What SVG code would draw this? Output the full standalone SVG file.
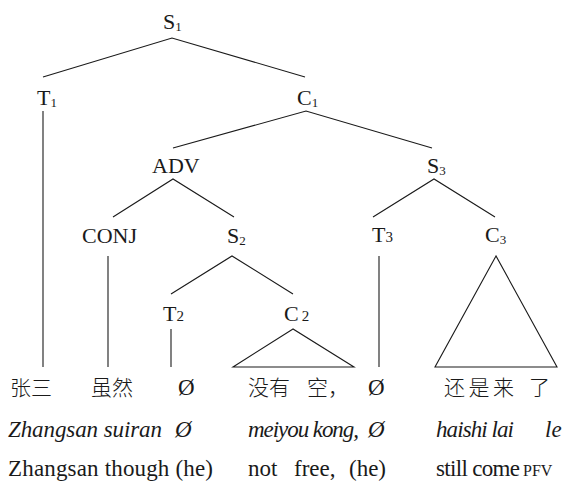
<svg xmlns="http://www.w3.org/2000/svg" width="562" height="486" viewBox="0 0 562 486">
  <style>
    .lbl { font-family: "Liberation Serif", "Times New Roman", serif; font-size: 22px; fill: #1a1a1a; }
    .sub { font-size: 13px; }
    .osub { font-size: 15px; }
    .edge { stroke: #1a1a1a; stroke-width: 1.1; fill: none; }
    .zh { font-family: "Noto Sans CJK SC", sans-serif; font-size: 21px; font-weight: 300; fill: #1a1a1a; }
    .it { font-family: "Liberation Serif", "Times New Roman", serif; font-style: italic; font-size: 23px; fill: #1a1a1a; }
    .gl { font-family: "Liberation Serif", "Times New Roman", serif; font-size: 23px; fill: #1a1a1a; }
    .sc { font-size: 16px; }
  </style>
  <rect width="562" height="486" fill="#ffffff"/>

  <!-- branches, vertical projections and triangles -->
  <g id="connectors">
    <polyline class="edge" points="43,77 172,38 305,77"/>
    <polyline class="edge" points="173,148 306,111 432,148"/>
    <polyline class="edge" points="113,217 173,179 234,217"/>
    <polyline class="edge" points="373,217 434,179 495,217"/>
    <polyline class="edge" points="171,294 232,256 293,294"/>
    <polygon class="edge" points="293,329 233,367 354,367"/>
    <polygon class="edge" points="496,256 435,367 557,367"/>
    <line class="edge" x1="43" y1="111" x2="43" y2="367"/>
    <line class="edge" x1="108" y1="256" x2="108" y2="367"/>
    <line class="edge" x1="171" y1="329" x2="171" y2="367"/>
    <line class="edge" x1="379" y1="256" x2="379" y2="367"/>
  </g>

  <!-- tree nodes -->
  <g id="S1"><text class="lbl" x="163" y="29">S<tspan class="sub" dy="2">1</tspan></text></g>
  <g id="T1"><text class="lbl" x="37" y="105">T<tspan class="sub" dy="2">1</tspan></text></g>
  <g id="C1"><text class="lbl" x="297" y="105">C<tspan class="sub" dy="2">1</tspan></text></g>
  <g id="ADV"><text class="lbl" x="152" y="173">ADV</text></g>
  <g id="S3"><text class="lbl" x="427" y="173">S<tspan class="sub" dy="2">3</tspan></text></g>
  <g id="CONJ"><text class="lbl" x="82" y="243">CONJ</text></g>
  <g id="S2"><text class="lbl" x="227" y="243">S<tspan class="sub" dy="2">2</tspan></text></g>
  <g id="T3"><text class="lbl" x="372" y="242">T<tspan class="osub">3</tspan></text></g>
  <g id="C3"><text class="lbl" x="485" y="242">C<tspan class="sub" dy="2">3</tspan></text></g>
  <g id="T2"><text class="lbl" x="163" y="321">T<tspan class="osub">2</tspan></text></g>
  <g id="C2"><text class="lbl" x="284" y="321">C<tspan class="osub" dx="3">2</tspan></text></g>

  <!-- example sentence: characters, romanisation, gloss -->
  <g id="hanzi">
    <text class="zh" x="10" y="395">张三</text>
    <text class="zh" x="91" y="395">虽然</text>
    <text class="gl" x="178" y="395">Ø</text>
    <text class="zh" x="248" y="395">没有</text>
    <text class="zh" x="307" y="395">空，</text>
    <text class="gl" x="368" y="395">Ø</text>
    <text class="zh" x="444" y="395" textLength="70">还是来</text>
    <text class="zh" x="529" y="395">了</text>
  </g>
  <g id="pinyin">
    <text class="it" x="8" y="437" textLength="154">Zhangsan suiran</text>
    <text class="it" x="175" y="437">Ø</text>
    <text class="it" x="248" y="437" textLength="111">meiyou kong,</text>
    <text class="it" x="368" y="437">Ø</text>
    <text class="it" x="436" y="437" textLength="78">haishi lai</text>
    <text class="it" x="545" y="437">le</text>
  </g>
  <g id="gloss">
    <text class="gl" x="8" y="476" textLength="205">Zhangsan though (he)</text>
    <text class="gl" x="248" y="476">not</text>
    <text class="gl" x="294" y="476">free,</text>
    <text class="gl" x="349" y="476">(he)</text>
    <text class="gl" x="436" y="476" textLength="84">still come</text>
    <text class="gl sc" x="523" y="476">PFV</text>
  </g>
</svg>
